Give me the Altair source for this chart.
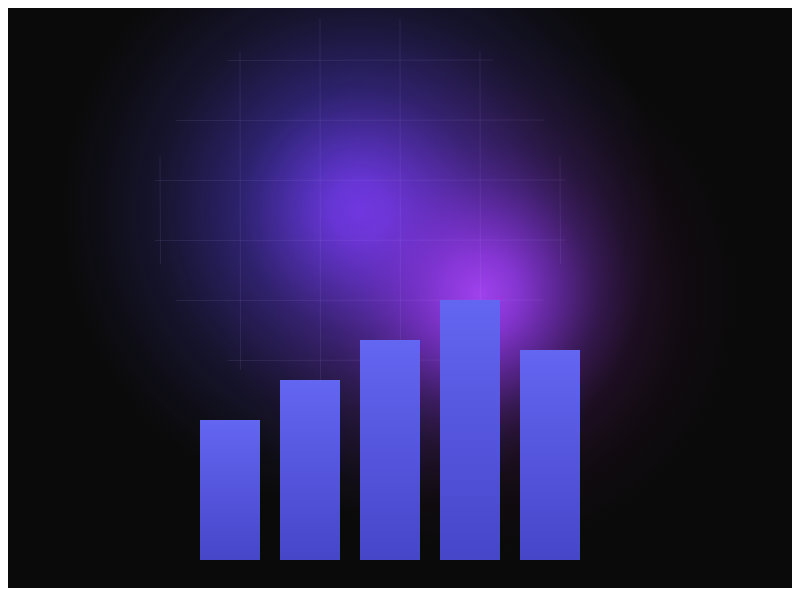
import altair as alt
import pandas as pd
import numpy as np

# ---------------- data ----------------
categories = ["A", "B", "C", "D", "E"]
values = [140, 180, 220, 260, 210]
grid_cols = [160, 240, 320, 400, 480, 560]      # vertical grid lines (x units)
grid_rows = [500, 440, 380, 320, 260, 200]      # horizontal grid lines (value units)

# ---------------- layout / style ----------------
W, H = 784, 580
X_DOMAIN = [8, 8 + W]            # x units == screen pixels
Y_DOMAIN = [-28, H - 28]         # value 0 sits at the bars' baseline
BG = "#0a0a0a"

# elliptical mask of the grid
MASK_CX, MASK_CY, MASK_A, MASK_B = 360, 350, 208, 195

# glows: centre x, centre value, radius
GLOW1 = (360, 350, 300)
GLOW2 = (480, 266, 260)

xs = alt.Scale(domain=X_DOMAIN)
ys = alt.Scale(domain=Y_DOMAIN)

# ---- grid segments clipped to ellipse ----
segs = []
for v in grid_rows:
    dy = v - MASK_CY
    if abs(dy) < MASK_B:
        half = MASK_A * np.sqrt(1 - (dy / MASK_B) ** 2)
        segs.append(dict(x=MASK_CX - half, x2=MASK_CX + half, y=v, y2=v))
for c in grid_cols:
    dx = c - MASK_CX
    if abs(dx) < MASK_A:
        half = MASK_B * np.sqrt(1 - (dx / MASK_A) ** 2)
        segs.append(dict(x=c, x2=c, y=MASK_CY - half, y2=MASK_CY + half))
grid_df = pd.DataFrame(segs)


def glow_layer(spec, stops):
    cx, cy, r = spec
    df = pd.DataFrame([dict(x=cx - r, x2=cx + r, y=cy - r, y2=cy + r)])
    grad = alt.RadialGradient(
        gradient="radial",
        stops=[alt.GradientStop(offset=o, color=c) for o, c in stops],
        x1=0.5, y1=0.5, r1=0, x2=0.5, y2=0.5, r2=0.5,
    )
    return alt.Chart(df).mark_rect(fill=grad, strokeWidth=0).encode(
        x=alt.X("x:Q", scale=xs, axis=None),
        x2="x2:Q",
        y=alt.Y("y:Q", scale=ys, axis=None),
        y2="y2:Q",
    )


glow1 = glow_layer(GLOW1, [
    (0.0, "rgba(110,60,242,1)"),
    (0.1, "rgba(106,60,240,0.93)"),
    (0.2, "rgba(98,60,235,0.78)"),
    (0.4, "rgba(82,60,218,0.48)"),
    (0.67, "rgba(75,60,195,0.2)"),
    (0.87, "rgba(70,60,180,0.07)"),
    (1.0, "rgba(70,60,180,0)"),
])

glow2 = glow_layer(GLOW2, [
    (0.0, "rgba(160,66,238,1)"),
    (0.15, "rgba(150,58,232,0.85)"),
    (0.3, "rgba(142,52,222,0.58)"),
    (0.45, "rgba(132,46,196,0.33)"),
    (0.6, "rgba(120,36,150,0.18)"),
    (0.8, "rgba(105,28,105,0.07)"),
    (1.0, "rgba(100,25,90,0)"),
])

grid = alt.Chart(grid_df).mark_rule(
    stroke="#c4b5fd", strokeOpacity=0.1, strokeWidth=1, xOffset=0.5, yOffset=0.5
).encode(
    x=alt.X("x:Q", scale=xs, axis=None),
    x2="x2:Q",
    y=alt.Y("y:Q", scale=ys, axis=None),
    y2="y2:Q",
)

bar_df = pd.DataFrame({"cat": categories, "value": values})
bar_grad = alt.LinearGradient(
    gradient="linear",
    stops=[alt.GradientStop(offset=0, color="#6366f1"),
           alt.GradientStop(offset=1, color="#4646c9")],
    x1=0, y1=0, x2=0, y2=1,
)
bars = alt.Chart(bar_df).mark_bar(fill=bar_grad, strokeWidth=0).encode(
    x=alt.X("cat:N", sort=categories, axis=None,
            scale=alt.Scale(range=[182, 582], paddingInner=0.25, paddingOuter=0.125)),
    y=alt.Y("value:Q", scale=ys, axis=None),
)

chart = alt.layer(glow1, glow2, grid, bars).resolve_scale(x="independent").properties(
    width=W, height=H,
    autosize=alt.AutoSizeParams(type="none"),
    padding=0,
    background=BG,
).configure_view(stroke="transparent")

chart.save("out.html", embed_options={"renderer": "svg", "actions": False})
